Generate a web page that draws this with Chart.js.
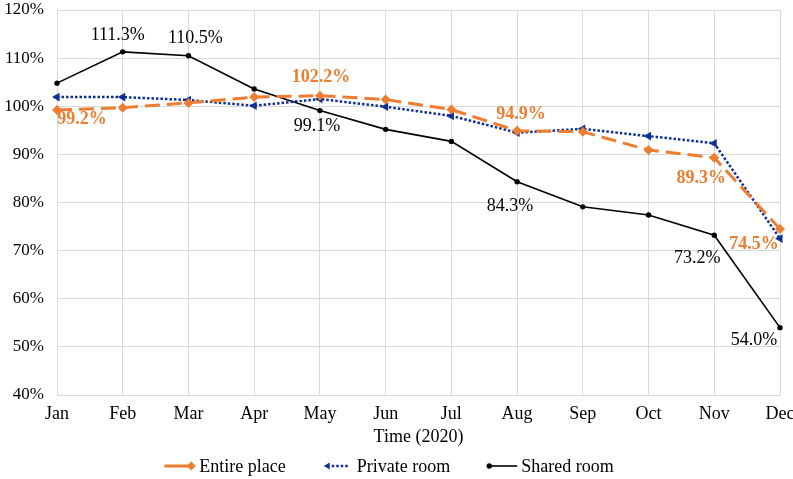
<!DOCTYPE html>
<html lang="en">
<head>
  <meta charset="UTF-8" />
  <title>Occupancy 2020</title>
  <script src="https://cdn.jsdelivr.net/npm/chart.js"></script>
  <style>
    body { margin: 0; background: #fff; }
    #wrap { width: 793px; height: 479px; }
  </style>
</head>
<body>
<div id="wrap"><canvas id="chart" width="793" height="479"></canvas></div>

<script>
const months = ['Jan', 'Feb', 'Mar', 'Apr', 'May', 'Jun', 'Jul', 'Aug', 'Sep', 'Oct', 'Nov', 'Dec'];
const entirePlace = [99.2, 99.7, 100.7, 101.9, 102.2, 101.4, 99.3, 94.9, 94.7, 90.9, 89.3, 74.5];
const privateRoom = [101.9, 101.9, 101.3, 100.1, 101.5, 99.9, 98.0, 94.5, 95.3, 93.8, 92.3, 72.5];
const sharedRoom = [104.8, 111.3, 110.5, 103.6, 99.1, 95.2, 92.7, 84.3, 79.1, 77.4, 73.2, 54.0];
const yTicks = [40, 50, 60, 70, 80, 90, 100, 110, 120];

const FONT = "'Liberation Serif', 'Times New Roman', serif";
const ORANGE = '#ED7D31';
const BLUE = '#0d2f96';
const GRID = '#d9d9d9';

// which points carry a value label, and where the label sits relative to the point
const pointLabels = [
  { ds: 0, i: 0, dx: 25, dy: 9 },
  { ds: 0, i: 4, dx: 1, dy: -18 },
  { ds: 0, i: 7, dx: 4, dy: -16 },
  { ds: 0, i: 10, dx: -13, dy: 21 },
  { ds: 0, i: 11, dx: -26, dy: 15 },
  { ds: 2, i: 1, dx: -5, dy: -17 },
  { ds: 2, i: 2, dx: 7, dy: -17 },
  { ds: 2, i: 4, dx: -3, dy: 16 },
  { ds: 2, i: 7, dx: -7, dy: 24 },
  { ds: 2, i: 10, dx: -17, dy: 23 },
  { ds: 2, i: 11, dx: -26, dy: 13 }
];

const valueLabels = {
  id: 'valueLabels',
  afterDatasetsDraw(chart) {
    const ctx = chart.ctx;
    ctx.save();
    ctx.textAlign = 'center';
    ctx.textBaseline = 'middle';
    pointLabels.forEach(l => {
      const ds = chart.data.datasets[l.ds];
      const pt = chart.getDatasetMeta(l.ds).data[l.i];
      const orange = l.ds === 0;
      ctx.font = (orange ? 'bold ' : '') + '18px ' + FONT;
      ctx.fillStyle = orange ? ORANGE : '#000';
      ctx.fillText(ds.data[l.i].toFixed(1) + '%', pt.x + l.dx, pt.y + l.dy);
    });
    ctx.restore();
  }
};

// legend with line + marker like the original
const lineLegend = {
  id: 'lineLegend',
  afterDraw(chart) {
    const ctx = chart.ctx;
    const y = 466;
    ctx.save();
    ctx.font = '18px ' + FONT;
    ctx.textBaseline = 'middle';
    ctx.textAlign = 'left';
    const items = chart.data.datasets.map(d => d.label);
    const symW = 35, gap = 36;
    let total = 0;
    items.forEach((t, k) => { total += symW + ctx.measureText(t).width + (k ? gap : 0); });
    let x = 389 - total / 2;
    items.forEach((t, k) => {
      ctx.save();
      if (k === 0) {
        ctx.strokeStyle = ORANGE; ctx.lineWidth = 3;
        ctx.beginPath(); ctx.moveTo(x, y); ctx.lineTo(x + 28, y); ctx.stroke();
        ctx.fillStyle = ORANGE;
        ctx.beginPath(); ctx.moveTo(x + 27, y - 4.5); ctx.lineTo(x + 31.5, y); ctx.lineTo(x + 27, y + 4.5); ctx.lineTo(x + 22.5, y); ctx.closePath(); ctx.fill();
      } else if (k === 1) {
        ctx.fillStyle = BLUE;
        ctx.beginPath(); ctx.moveTo(x + 2, y); ctx.lineTo(x + 8, y - 3.5); ctx.lineTo(x + 8, y + 3.5); ctx.closePath(); ctx.fill();
        ctx.strokeStyle = BLUE; ctx.lineWidth = 2.5; ctx.setLineDash([2.5, 2]);
        ctx.beginPath(); ctx.moveTo(x + 10, y); ctx.lineTo(x + 26, y); ctx.stroke();
      } else {
        ctx.strokeStyle = '#000'; ctx.lineWidth = 1.6;
        ctx.beginPath(); ctx.moveTo(x + 3, y); ctx.lineTo(x + 31, y); ctx.stroke();
        ctx.fillStyle = '#000';
        ctx.beginPath(); ctx.arc(x + 3, y, 2.7, 0, Math.PI * 2); ctx.fill();
      }
      ctx.restore();
      ctx.fillStyle = '#000';
      ctx.fillText(t, x + symW, y + 1);
      x += symW + ctx.measureText(t).width + gap;
    });
    ctx.restore();
  }
};

Chart.defaults.font.family = FONT;
Chart.defaults.font.size = 17;
Chart.defaults.color = '#000';

new Chart(document.getElementById('chart'), {
  type: 'line',
  data: {
    labels: months,
    datasets: [
      {
        label: 'Entire place',
        data: entirePlace,
        borderColor: ORANGE,
        backgroundColor: ORANGE,
        borderWidth: 3,
        borderDash: [15, 7],
        pointStyle: 'rectRot',
        pointRadius: 5,
        pointBorderWidth: 0,
        tension: 0
      },
      {
        label: 'Private room',
        data: privateRoom,
        borderColor: BLUE,
        backgroundColor: BLUE,
        borderWidth: 2.5,
        borderDash: [2.5, 2],
        pointStyle: 'triangle',
        pointRotation: -90,
        pointRadius: 5,
        pointBorderWidth: 0,
        tension: 0
      },
      {
        label: 'Shared room',
        data: sharedRoom,
        borderColor: '#000',
        backgroundColor: '#000',
        borderWidth: 1.6,
        pointStyle: 'circle',
        pointRadius: 2.7,
        pointBorderWidth: 0,
        tension: 0
      }
    ]
  },
  options: {
    responsive: false,
    animation: false,
    layout: { padding: { top: 0, right: 0, bottom: 30, left: 0 } },
    plugins: {
      legend: { display: false },
      tooltip: { enabled: false }
    },
    scales: {
      x: {
        offset: false,
        grid: { color: GRID, lineWidth: 1, drawTicks: false },
        border: { color: GRID },
        ticks: { padding: 8, font: { size: 18 } },
        title: { display: true, text: 'Time (2020)', font: { size: 18 }, padding: { top: 0, bottom: 1 } },
        afterFit(scale) {
          scale.height = 54;
          scale.paddingLeft = 0;
          scale.paddingRight = 13;
        }
      },
      y: {
        min: 40,
        max: 120,
        grid: { color: GRID, lineWidth: 1, drawTicks: false },
        border: { color: GRID },
        afterBuildTicks(scale) { scale.ticks = yTicks.map(v => ({ value: v })); },
        ticks: { padding: 13, callback: v => v + '%' },
        afterFit(scale) {
          scale.width = 57;
          scale.paddingTop = 10;
          scale.paddingBottom = 0;
        }
      }
    }
  },
  plugins: [valueLabels, lineLegend]
});
</script>
</body>
</html>
